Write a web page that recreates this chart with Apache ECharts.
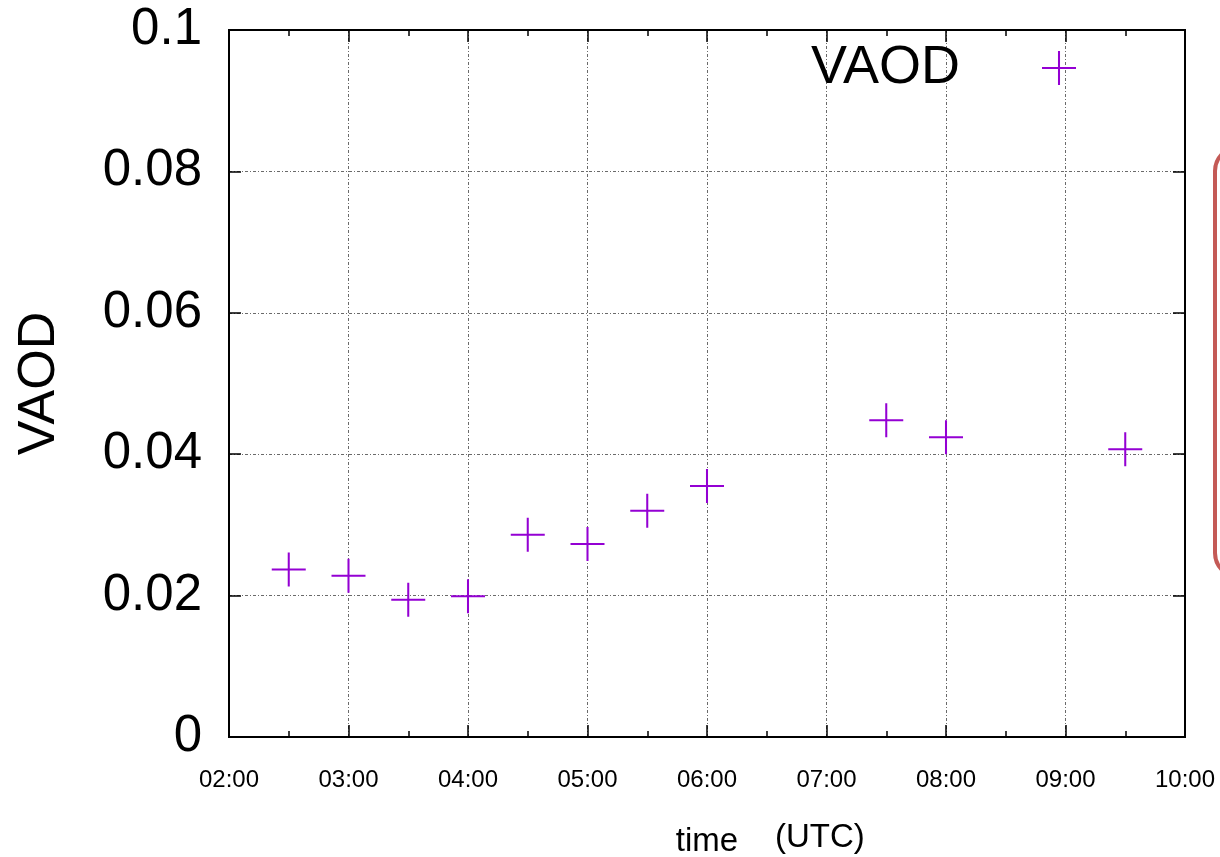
<!DOCTYPE html>
<html>
<head>
<meta charset="utf-8">
<script src="https://cdn.jsdelivr.net/npm/echarts@6/dist/echarts.min.js"></script>
<style>html,body{margin:0;padding:0;background:#fff;}#c{width:1220px;height:857px;}</style>
</head>
<body>
<div id="c"></div>
<script>
// ---- data ----
const times = ['02:30','03:00','03:30','04:00','04:30','05:00','05:30','06:00','07:30','08:00','09:30'];
const vaod  = [0.0237, 0.0228, 0.0194, 0.0199, 0.0286, 0.0273, 0.0320, 0.0355, 0.0448, 0.0424, 0.0407];
const xTickLabels = ['02:00','03:00','04:00','05:00','06:00','07:00','08:00','09:00','10:00'];
const yTickLabels = ['0','0.02','0.04','0.06','0.08','0.1'];
const seriesName = 'VAOD';

function toHours(t){ const p = t.split(':'); return +p[0] + (+p[1])/60; }
const points = times.map((t,i)=>[toHours(t), vaod[i]]);

const FONT = 'Liberation Sans, Arial, Helvetica, sans-serif';
const CROSS = 'path://M0,47 L100,47 L100,53 L0,53 Z M47,0 L53,0 L53,100 L47,100 Z';
const purple = '#9400D3';
const gridLine = {show:true, lineStyle:{color:'#6a6a6a', width:1, type:[3,2,1,2]}};
const axLine = {show:true, onZero:false, lineStyle:{color:'#000', width:2}};

const chart = echarts.init(document.getElementById('c'), null, {renderer:'canvas'});
chart.setOption({
  backgroundColor:'#fff',
  animation:false,
  grid:{left:229, right:35, top:30, bottom:120, containLabel:false, outerBoundsMode:'none',
        show:true, borderColor:'#000', borderWidth:2, backgroundColor:'transparent'},
  legend:{
    show:true, data:[{name:seriesName, icon:CROSS}], right:139, top:36, align:'right',
    itemWidth:34, itemHeight:34, selectedMode:false,
    textStyle:{fontFamily:FONT, fontSize:54, color:'#000', padding:[0,77,0,0]}
  },
  xAxis:[{
    type:'value', min:2, max:10, interval:1, position:'bottom',
    name:'time', nameLocation:'middle', nameGap:88,
    nameTextStyle:{fontFamily:FONT, fontSize:33, color:'#000'},
    axisLine:axLine,
    axisTick:{show:true, inside:true, length:12, lineStyle:{color:'#000', width:1.5}},
    minorTick:{show:true, splitNumber:2, length:6, lineStyle:{color:'#000', width:1.5}},
    axisLabel:{fontFamily:FONT, fontSize:24, color:'#000', margin:31,
      formatter:(v)=>xTickLabels[Math.round(v-2)] || ''},
    splitLine:gridLine
  },{
    type:'value', min:2, max:10, interval:1, position:'top',
    axisLine:axLine,
    axisTick:{show:true, inside:true, length:12, lineStyle:{color:'#000', width:1.5}},
    minorTick:{show:true, splitNumber:2, length:6, lineStyle:{color:'#000', width:1.5}},
    axisLabel:{show:false}, splitLine:{show:false}
  }],
  yAxis:[{
    type:'value', min:0, max:0.1, interval:0.02, position:'left',
    name:'VAOD', nameLocation:'middle', nameGap:163, nameRotate:90,
    nameTextStyle:{fontFamily:FONT, fontSize:52, color:'#000'},
    axisLine:axLine,
    axisTick:{show:true, inside:true, length:12, lineStyle:{color:'#000', width:1.5}},
    axisLabel:{fontFamily:FONT, fontSize:51, color:'#000', margin:27,
      formatter:(v)=>yTickLabels[Math.round(v/0.02)] || ''},
    splitLine:gridLine
  },{
    type:'value', min:0, max:0.1, interval:0.02, position:'right',
    axisLine:axLine,
    axisTick:{show:true, inside:true, length:12, lineStyle:{color:'#000', width:1.5}},
    axisLabel:{show:false}, splitLine:{show:false}
  }],
  series:[{
    name:seriesName, type:'scatter', xAxisIndex:0, yAxisIndex:0,
    symbol:CROSS, symbolSize:34,
    itemStyle:{color:purple, opacity:1},
    data:points
  }],
  graphic:[
    {type:'text', left:775, top:821, style:{text:'(UTC)', font:'33px ' + FONT, fill:'#000'}},
    {type:'rect', shape:{x:1215, y:147, width:60, height:430, r:24}, style:{fill:'none', stroke:'#c45a56', lineWidth:4}}
  ]
});
</script>
</body>
</html>
